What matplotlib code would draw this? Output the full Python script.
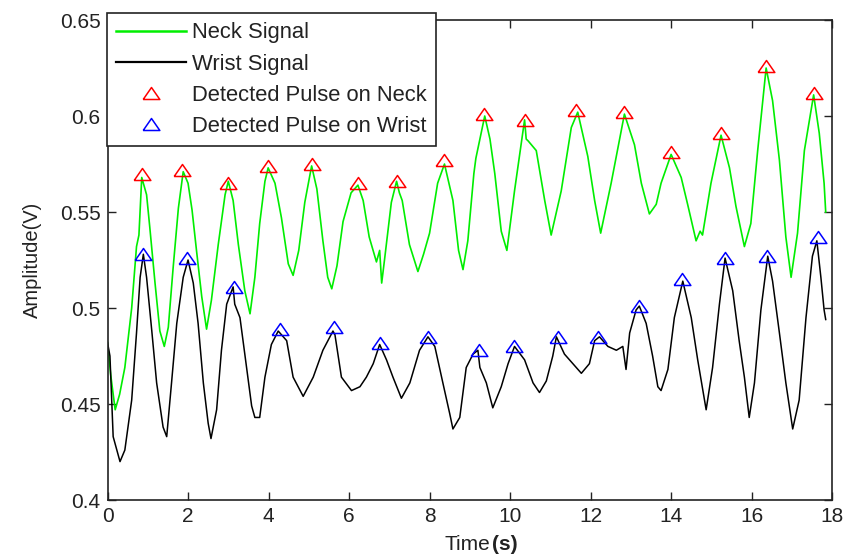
import matplotlib
matplotlib.use("Agg")
import matplotlib.pyplot as plt
from matplotlib.lines import Line2D

plt.rcParams['font.family'] = ['Liberation Sans', 'DejaVu Sans']

# ---- data ----
neck_t = [0.00, 0.08, 0.19, 0.30, 0.43, 0.60, 0.72, 0.78, 0.85, 0.97, 1.05, 1.18, 1.30, 1.41, 1.51,
          1.63, 1.76, 1.88, 2.00, 2.10, 2.21, 2.34, 2.46, 2.58, 2.75, 2.92, 3.00, 3.12, 3.25, 3.41,
          3.54, 3.66, 3.78, 3.91, 3.99, 4.16, 4.32, 4.49, 4.61, 4.75, 4.90, 5.07, 5.20, 5.35, 5.47,
          5.57, 5.70, 5.85, 6.05, 6.22, 6.35, 6.50, 6.68, 6.76, 6.81, 6.88, 7.05, 7.18, 7.25, 7.32,
          7.50, 7.71, 7.85, 8.00, 8.20, 8.37, 8.58, 8.72, 8.83, 8.95, 9.10, 9.15, 9.37, 9.50, 9.62,
          9.78, 9.92, 10.11, 10.36, 10.40, 10.45, 10.65, 10.86, 11.02, 11.27, 11.52, 11.68, 11.93,
          12.10, 12.25, 12.51, 12.84, 13.09, 13.26, 13.46, 13.63, 13.75, 14.00, 14.25, 14.41, 14.62,
          14.72, 14.78, 14.99, 15.24, 15.45, 15.61, 15.82, 15.98, 16.15, 16.36, 16.52, 16.69, 16.85,
          16.98, 17.14, 17.31, 17.54, 17.68, 17.80, 17.84]
neck_v = [0.482, 0.465, 0.447, 0.455, 0.469, 0.500, 0.532, 0.538, 0.568, 0.559, 0.542, 0.513, 0.488, 0.480, 0.490,
          0.521, 0.552, 0.571, 0.565, 0.551, 0.530, 0.506, 0.489, 0.504, 0.533, 0.559, 0.566, 0.556, 0.533, 0.509,
          0.497, 0.516, 0.544, 0.566, 0.573, 0.565, 0.547, 0.523, 0.517, 0.530, 0.555, 0.574, 0.562, 0.535, 0.516,
          0.510, 0.522, 0.545, 0.560, 0.564, 0.556, 0.537, 0.524, 0.530, 0.513, 0.525, 0.555, 0.566, 0.560, 0.556,
          0.533, 0.519, 0.528, 0.539, 0.565, 0.575, 0.556, 0.530, 0.520, 0.535, 0.570, 0.578, 0.600, 0.588, 0.570,
          0.540, 0.530, 0.561, 0.598, 0.588, 0.587, 0.582, 0.556, 0.538, 0.561, 0.594, 0.602, 0.579,
          0.556, 0.539, 0.565, 0.601, 0.585, 0.565, 0.549, 0.554, 0.565, 0.580, 0.568, 0.554, 0.535,
          0.540, 0.538, 0.565, 0.590, 0.573, 0.553, 0.532, 0.544, 0.582, 0.625, 0.608, 0.577, 0.537,
          0.516, 0.539, 0.582, 0.611, 0.591, 0.565, 0.550]

wrist_t = [0.00, 0.06, 0.14, 0.31, 0.43, 0.60, 0.72, 0.81, 0.89, 0.97, 1.10, 1.22, 1.38, 1.47, 1.59,
           1.72, 1.88, 2.00, 2.13, 2.25, 2.38, 2.50, 2.57, 2.71, 2.83, 2.96, 3.12, 3.16, 3.29, 3.41,
           3.58, 3.66, 3.78, 3.91, 4.07, 4.24, 4.45, 4.61, 4.86, 5.11, 5.35, 5.60, 5.65, 5.81, 6.06,
           6.27, 6.43, 6.60, 6.76, 6.93, 7.09, 7.30, 7.51, 7.75, 7.96, 8.13, 8.33, 8.50, 8.58, 8.75,
           8.91, 9.08, 9.20, 9.25, 9.41, 9.57, 9.78, 9.95, 10.11, 10.36, 10.57, 10.73, 10.90, 11.06,
           11.15, 11.35, 11.56, 11.77, 11.97, 12.10, 12.22, 12.43, 12.64, 12.80, 12.88, 12.97, 13.13,
           13.21, 13.38, 13.54, 13.67, 13.75, 13.92, 14.08, 14.29, 14.50, 14.66, 14.87, 15.03, 15.20,
           15.34, 15.53, 15.69, 15.82, 15.94, 16.07, 16.23, 16.40, 16.52, 16.69, 16.85, 17.02, 17.18,
           17.35, 17.51, 17.62, 17.72, 17.80, 17.84]
wrist_v = [0.482, 0.475, 0.433, 0.420, 0.426, 0.452, 0.487, 0.516, 0.528, 0.516, 0.488, 0.461, 0.438, 0.433, 0.461,
           0.492, 0.516, 0.525, 0.513, 0.492, 0.461, 0.440, 0.432, 0.447, 0.478, 0.502, 0.511, 0.502, 0.495, 0.476,
           0.449, 0.443, 0.443, 0.464, 0.481, 0.488, 0.483, 0.464, 0.454, 0.464, 0.478, 0.488, 0.486, 0.464, 0.457,
           0.459, 0.464, 0.471, 0.481, 0.473, 0.464, 0.453, 0.461, 0.478, 0.485, 0.480, 0.461, 0.445, 0.437, 0.443,
           0.469, 0.476, 0.478, 0.469, 0.461, 0.448, 0.459, 0.471, 0.480, 0.473, 0.461, 0.456, 0.462, 0.475,
           0.485, 0.476, 0.471, 0.466, 0.471, 0.483, 0.485, 0.480, 0.478, 0.480, 0.468, 0.487, 0.499,
           0.501, 0.492, 0.475, 0.459, 0.457, 0.468, 0.495, 0.514, 0.495, 0.473, 0.447, 0.469, 0.502,
           0.526, 0.509, 0.483, 0.464, 0.443, 0.461, 0.499, 0.527, 0.514, 0.487, 0.461, 0.437, 0.452,
           0.495, 0.527, 0.535, 0.516, 0.499, 0.494]

neck_peak_t = [0.85, 1.86, 3.00, 3.99, 5.08, 6.22, 7.18, 8.37, 9.36, 10.38, 11.63, 12.84, 14.00, 15.25, 16.36, 17.55]
neck_peak_v = [0.570, 0.572, 0.565, 0.574, 0.575, 0.565, 0.566, 0.577, 0.601, 0.598, 0.603, 0.602, 0.581, 0.591, 0.626, 0.612]
wrist_peak_t = [0.87, 1.98, 3.15, 4.28, 5.63, 6.78, 7.96, 9.23, 10.09, 11.19, 12.18, 13.21, 14.26, 15.35, 16.37, 17.64]
wrist_peak_v = [0.528, 0.526, 0.511, 0.489, 0.490, 0.482, 0.485, 0.478, 0.480, 0.485, 0.485, 0.501, 0.515, 0.526, 0.527, 0.537]

x_ticks = [0, 2, 4, 6, 8, 10, 12, 14, 16, 18]
y_ticks = [0.4, 0.45, 0.5, 0.55, 0.6, 0.65]
y_labels = ['0.4', '0.45', '0.5', '0.55', '0.6', '0.65']
legend_labels = ['Neck Signal', 'Wrist Signal', 'Detected Pulse on Neck', 'Detected Pulse on Wrist']

# ---- figure ----
fig = plt.figure(figsize=(8.5, 5.56), dpi=100)
ax = fig.add_axes([0.1265, 0.1007, 0.979 - 0.1265, 0.9640 - 0.1007])

tri = [(-1, -0.72), (1, -0.72), (0, 0.72), (-1, -0.72)]

ax.plot(neck_t, neck_v, color='#00ee00', lw=1.2)
ax.plot(wrist_t, wrist_v, color='black', lw=1.1)
ax.plot(neck_peak_t, neck_peak_v, linestyle='none', marker=tri, markersize=12,
        markerfacecolor='none', markeredgecolor='red', markeredgewidth=1.1)
ax.plot(wrist_peak_t, wrist_peak_v, linestyle='none', marker=tri, markersize=12,
        markerfacecolor='none', markeredgecolor='blue', markeredgewidth=1.1)

ax.set_xlim(0, 18)
ax.set_ylim(0.4, 0.65)
ax.set_xticks(x_ticks)
ax.set_yticks(y_ticks)
ax.set_yticklabels(y_labels)
ax.tick_params(direction='in', length=6, width=1, top=True, right=True,
               labelsize=15, colors='#222222', pad=5)
for s in ax.spines.values():
    s.set_linewidth(1.2)
    s.set_color('#222222')

ax.set_ylabel('Amplitude(V)', fontsize=14.5, color='#222222', labelpad=13)
fig.text(490 / 850, 1 - 545 / 556, 'Time', fontsize=15, color='#222222', ha='right', va='center')
fig.text(492 / 850, 1 - 545 / 556, '(s)', fontsize=15, color='#222222', ha='left', va='center',
         fontweight='bold')

handles = [
    Line2D([], [], color='#00ee00', lw=1.8),
    Line2D([], [], color='black', lw=1.6),
    Line2D([], [], linestyle='none', marker=tri, markersize=12, markerfacecolor='none',
           markeredgecolor='red', markeredgewidth=1.1),
    Line2D([], [], linestyle='none', marker=tri, markersize=12, markerfacecolor='none',
           markeredgecolor='blue', markeredgewidth=1.1),
]
leg = ax.legend(handles, legend_labels, loc='upper left',
                bbox_to_anchor=(107 / 850, 1 - 13 / 556), bbox_transform=fig.transFigure,
                fontsize=15.8, frameon=True, fancybox=False, framealpha=1, edgecolor='#222222',
                borderaxespad=0, borderpad=0.42, handlelength=3.2, handletextpad=0.25,
                labelspacing=0.47)
leg.get_frame().set_linewidth(1.2)
for t in leg.get_texts():
    t.set_color('#222222')

fig.savefig('out.png', dpi=100)
